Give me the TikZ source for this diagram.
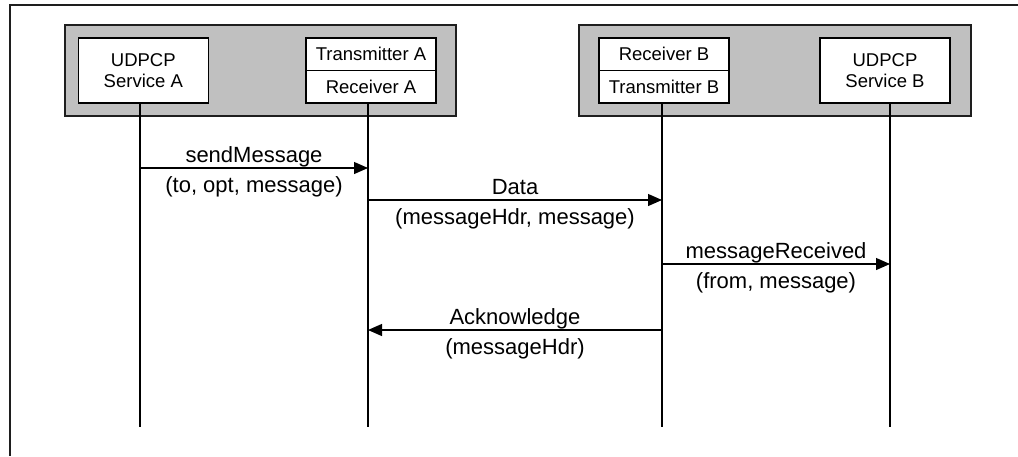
\documentclass[tikz,border=0pt]{standalone}
\usepackage{fontspec}
\setmainfont{Liberation Sans}
\usetikzlibrary{arrows.meta}
\definecolor{grayfill}{RGB}{192,192,192}
\definecolor{edge}{RGB}{30,30,30}
\newcommand{\boxfont}{\fontsize{18.5}{21}\selectfont}
\newcommand{\lblfont}{\fontsize{22}{26}\selectfont}
\begin{document}
\begin{tikzpicture}[x=1pt,y=-1pt,
  frame/.style={draw=edge, line width=1.4pt},
  group/.style={draw=edge, line width=1.5pt, fill=grayfill, inner sep=0pt,
    minimum height=91pt},
  unit/.style={draw=black, line width=1.3pt, fill=white, inner sep=0pt,
    minimum width=130pt, minimum height=65pt, align=center, font=\boxfont},
  cell/.style={unit, minimum height=32.5pt},
  life/.style={draw=black, line width=1.2pt},
  msg/.style={draw=black, line width=1.2pt, -{Triangle[length=14pt,width=12pt]}},
  above label/.style={font=\lblfont, anchor=base, inner sep=0pt, yshift=5.5pt},
  below label/.style={font=\lblfont, anchor=base, inner sep=0pt, yshift=-24pt}
]
\useasboundingbox (0,0) rectangle (1018,456);

% outer frame (top and left edges)
\draw[frame] (1018,5) -- (10,5) -- (10,456);

% side A
\node[group, minimum width=391pt] (grpA) at (260.5,70.5) {};
\node[unit] (svcA) at (143.3,70.5) {UDPCP\\Service A};
\node[cell] (txA) at (371,54.25) {Transmitter A};
\node[cell] (rxA) at (371,86.75) {Receiver A};

% side B
\node[group, minimum width=392pt] (grpB) at (775,70.5) {};
\node[cell] (rxB) at (664,54.25) {Receiver B};
\node[cell] (txB) at (664,86.75) {Transmitter B};
\node[unit] (svcB) at (885,70.5) {UDPCP\\Service B};

% lifeline ends
\coordinate (endA1) at (140,427);
\coordinate (endA2) at (368,427);
\coordinate (endB1) at (662,427);
\coordinate (endB2) at (890,427);

% lifelines
\draw[life] (svcA.south -| endA1) -- (endA1);
\draw[life] (rxA.south -| endA2) -- (endA2);
\draw[life] (txB.south -| endB1) -- (endB1);
\draw[life] (svcB.south -| endB2) -- (endB2);

% messages
\draw[msg] (endA1 |- 0,168) -- (endA2 |- 0,168)
  node[midway, above label] {sendMessage}
  node[midway, below label] {(to, opt, message)};
\draw[msg] (endA2 |- 0,200) -- (endB1 |- 0,200)
  node[midway, above label] {Data}
  node[midway, below label] {(messageHdr, message)};
\draw[msg] (endB1 |- 0,264) -- (endB2 |- 0,264)
  node[midway, above label] {messageReceived}
  node[midway, below label] {(from, message)};
\draw[msg] (endB1 |- 0,330) -- (endA2 |- 0,330)
  node[midway, above label] {Acknowledge}
  node[midway, below label] {(messageHdr)};
\end{tikzpicture}
\end{document}
